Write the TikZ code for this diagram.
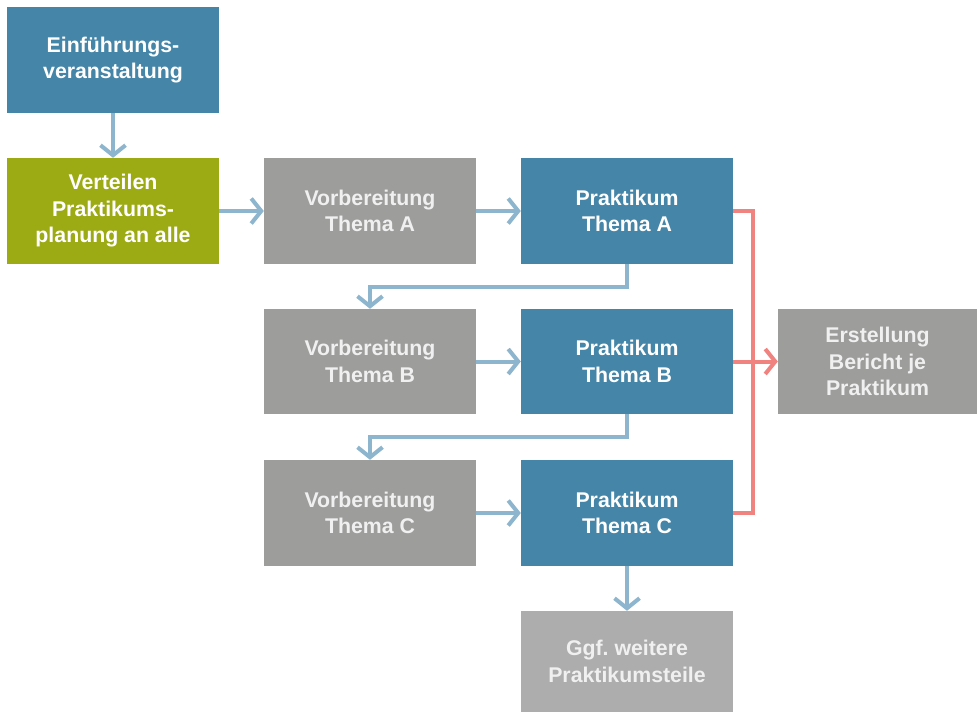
\documentclass[tikz,border=0pt]{standalone}
\usepackage{fontspec}
\setmainfont{Liberation Sans}
\usetikzlibrary{arrows.meta}
\frenchspacing
\definecolor{boxblue}{HTML}{4485A8}
\definecolor{boxolive}{HTML}{9CAB14}
\definecolor{boxgray}{HTML}{9D9D9C}
\definecolor{boxlight}{HTML}{ADADAD}
\definecolor{arrblue}{HTML}{8DB5CD}
\definecolor{arrred}{HTML}{F0827F}
\tikzset{
  box/.style={rectangle, minimum width=212pt, minimum height=106pt, inner sep=0pt,
    align=center, text=white, font=\fontsize{21.3pt}{26.5pt}\selectfont\bfseries},
  bluebox/.style={box, fill=boxblue},
  olivebox/.style={box, fill=boxolive},
  graybox/.style={box, fill=boxgray, text=white!94!black},
  lightbox/.style={box, fill=boxlight, text=white!94!black},
  flow/.style={draw=arrblue, line width=4pt, -{Straight Barb[length=10pt,width=25pt]}},
  redflow/.style={draw=arrred, line width=4pt, -{Straight Barb[length=10pt,width=25pt]}},
  redline/.style={draw=arrred, line width=4pt},
}
\begin{document}
\begin{tikzpicture}[x=1pt,y=-1pt]
\useasboundingbox (0,0) rectangle (977,712);
\node[bluebox] (E) at (113,60) {Einführungs-\\veranstaltung};
\node[olivebox] (V) at (113,211) {Verteilen\\Praktikums-\\planung an alle};
\node[graybox] (VA) at (370,211) {Vorbereitung\\Thema A};
\node[bluebox] (PA) at (627,211) {Praktikum\\Thema A};
\node[graybox, minimum height=105pt] (VB) at (370,361.5) {Vorbereitung\\Thema B};
\node[bluebox, minimum height=105pt] (PB) at (627,361.5) {Praktikum\\Thema B};
\node[graybox] (VC) at (370,513) {Vorbereitung\\Thema C};
\node[bluebox] (PC) at (627,513) {Praktikum\\Thema C};
\node[graybox, minimum width=199pt, minimum height=105pt] (ER) at (877.5,361.5) {Erstellung\\Bericht je\\Praktikum};
\node[lightbox, minimum height=101pt] (G) at (627,661.5) {Ggf.\ weitere\\Praktikumsteile};

\coordinate (ja1) at (627,287);
\coordinate (ja2) at (370,287);
\coordinate (jb1) at (627,437);
\coordinate (jb2) at (370,437);
\coordinate (ra) at (753,211);
\coordinate (rc) at (753,513);

\draw[flow] (E.south) -- (V.north);
\draw[flow] (V.east) -- (VA.west);
\draw[flow] (VA.east) -- (PA.west);
\draw[flow] (VB.east) -- (PB.west);
\draw[flow] (VC.east) -- (PC.west);
\draw[flow] (PA.south) -- (ja1) -- (ja2) -- (VB.north);
\draw[flow] (PB.south) -- (jb1) -- (jb2) -- (VC.north);
\draw[flow] (PC.south) -- (G.north);
\draw[redline] (PA.east) -- (ra) -- (rc) -- (PC.east);
\draw[redflow] (PB.east) -- (ER.west);
\end{tikzpicture}
\end{document}
